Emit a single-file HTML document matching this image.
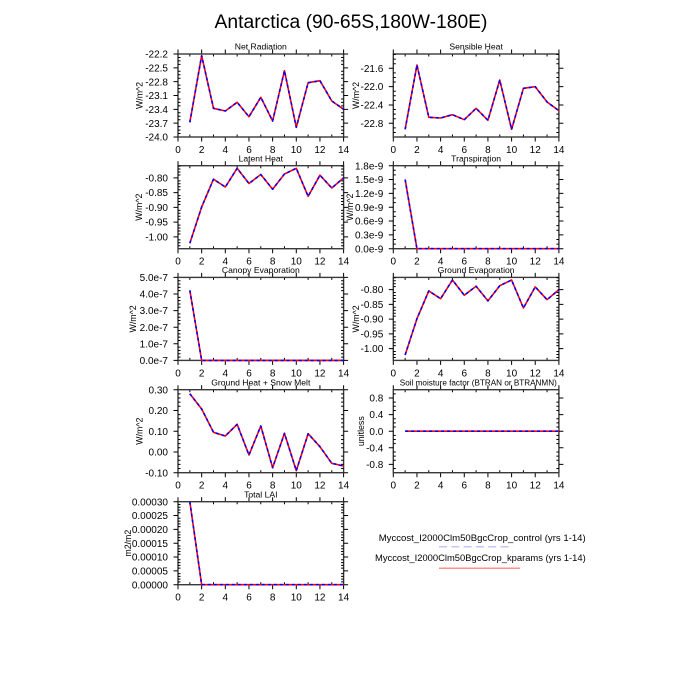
<!DOCTYPE html>
<html><head><meta charset="utf-8"><style>
html,body{margin:0;padding:0;background:#fff;}
svg{display:block;}
text{font-family:"Liberation Sans",Arial,sans-serif;fill:#000;}
</style></head><body>
<svg width="700" height="700" viewBox="0 0 700 700" xmlns="http://www.w3.org/2000/svg" xmlns:xlink="http://www.w3.org/1999/xlink">
<rect width="700" height="700" fill="#fff"/>
<defs>
<path id="xb" stroke="#000" stroke-width="1" fill="none" d="M0 83v4.5M23.66 83v4.5M47.31 83v4.5M70.97 83v4.5M94.63 83v4.5M118.29 83v4.5M141.94 83v4.5M165.6 83v4.5M11.83 83v-2.5M35.49 83v-2.5M59.14 83v-2.5M82.8 83v-2.5M106.46 83v-2.5M130.11 83v-2.5M153.77 83v-2.5"/>
<g id="frame"><use href="#xb" xlink:href="#xb"/><use href="#xb" xlink:href="#xb" transform="translate(0,83) scale(1,-1)"/><rect x="0" y="0" width="165.6" height="83" fill="none" stroke="#3a3a3a" stroke-width="1.4"/></g>
<path id="y1" stroke="#000" stroke-width="1" fill="none" d="M0 0h-4.5M0 13.83h-4.5M0 27.67h-4.5M0 41.5h-4.5M0 55.33h-4.5M0 69.17h-4.5M0 83h-4.5M0 3.46h2.5M0 6.92h2.5M0 10.37h2.5M0 17.29h2.5M0 20.75h2.5M0 24.21h2.5M0 31.13h2.5M0 34.58h2.5M0 38.04h2.5M0 44.96h2.5M0 48.42h2.5M0 51.88h2.5M0 58.79h2.5M0 62.25h2.5M0 65.71h2.5M0 72.63h2.5M0 76.08h2.5M0 79.54h2.5"/>
<path id="y2" stroke="#000" stroke-width="1" fill="none" d="M0 14.3h-4.5M0 32.63h-4.5M0 50.96h-4.5M0 69.3h-4.5M0 0.56h2.5M0 5.14h2.5M0 9.72h2.5M0 18.88h2.5M0 23.46h2.5M0 28.05h2.5M0 37.21h2.5M0 41.8h2.5M0 46.38h2.5M0 55.54h2.5M0 60.13h2.5M0 64.71h2.5M0 73.88h2.5M0 78.46h2.5"/>
<path id="y3" stroke="#000" stroke-width="1" fill="none" d="M0 12.2h-4.5M0 26.95h-4.5M0 41.7h-4.5M0 56.45h-4.5M0 71.2h-4.5M0 0.4h2.5M0 3.35h2.5M0 6.3h2.5M0 9.25h2.5M0 15.15h2.5M0 18.1h2.5M0 21.05h2.5M0 24h2.5M0 29.9h2.5M0 32.85h2.5M0 35.8h2.5M0 38.75h2.5M0 44.65h2.5M0 47.6h2.5M0 50.55h2.5M0 53.5h2.5M0 59.4h2.5M0 62.35h2.5M0 65.3h2.5M0 68.25h2.5M0 74.15h2.5M0 77.1h2.5M0 80.05h2.5"/>
<path id="y4" stroke="#000" stroke-width="1" fill="none" d="M0 0h-4.5M0 13.83h-4.5M0 27.67h-4.5M0 41.5h-4.5M0 55.33h-4.5M0 69.17h-4.5M0 83h-4.5M0 4.61h2.5M0 9.22h2.5M0 18.44h2.5M0 23.06h2.5M0 32.28h2.5M0 36.89h2.5M0 46.11h2.5M0 50.72h2.5M0 59.94h2.5M0 64.56h2.5M0 73.78h2.5M0 78.39h2.5"/>
<path id="y5" stroke="#000" stroke-width="1" fill="none" d="M0 0h-4.5M0 16.6h-4.5M0 33.2h-4.5M0 49.8h-4.5M0 66.4h-4.5M0 83h-4.5M0 3.32h2.5M0 6.64h2.5M0 9.96h2.5M0 13.28h2.5M0 19.92h2.5M0 23.24h2.5M0 26.56h2.5M0 29.88h2.5M0 36.52h2.5M0 39.84h2.5M0 43.16h2.5M0 46.48h2.5M0 53.12h2.5M0 56.44h2.5M0 59.76h2.5M0 63.08h2.5M0 69.72h2.5M0 73.04h2.5M0 76.36h2.5M0 79.68h2.5"/>
<path id="y7" stroke="#000" stroke-width="1" fill="none" d="M0 0h-4.5M0 20.75h-4.5M0 41.5h-4.5M0 62.25h-4.5M0 83h-4.5M0 4.15h2.5M0 8.3h2.5M0 12.45h2.5M0 16.6h2.5M0 24.9h2.5M0 29.05h2.5M0 33.2h2.5M0 37.35h2.5M0 45.65h2.5M0 49.8h2.5M0 53.95h2.5M0 58.1h2.5M0 66.4h2.5M0 70.55h2.5M0 74.7h2.5M0 78.85h2.5"/>
<path id="y8" stroke="#000" stroke-width="1" fill="none" d="M0 8.3h-4.5M0 24.9h-4.5M0 41.5h-4.5M0 58.1h-4.5M0 74.7h-4.5M0 4.15h2.5M0 12.45h2.5M0 16.6h2.5M0 20.75h2.5M0 29.05h2.5M0 33.2h2.5M0 37.35h2.5M0 45.65h2.5M0 49.8h2.5M0 53.95h2.5M0 62.25h2.5M0 66.4h2.5M0 70.55h2.5M0 78.85h2.5"/>
<path id="y9" stroke="#000" stroke-width="1" fill="none" d="M0 0h-4.5M0 13.83h-4.5M0 27.67h-4.5M0 41.5h-4.5M0 55.33h-4.5M0 69.17h-4.5M0 83h-4.5M0 2.77h2.5M0 5.53h2.5M0 8.3h2.5M0 11.07h2.5M0 16.6h2.5M0 19.37h2.5M0 22.13h2.5M0 24.9h2.5M0 30.43h2.5M0 33.2h2.5M0 35.97h2.5M0 38.73h2.5M0 44.27h2.5M0 47.03h2.5M0 49.8h2.5M0 52.57h2.5M0 58.1h2.5M0 60.87h2.5M0 63.63h2.5M0 66.4h2.5M0 71.93h2.5M0 74.7h2.5M0 77.47h2.5M0 80.23h2.5"/>
</defs>

<text x="351" y="28" font-size="19.3" text-anchor="middle">Antarctica (90-65S,180W-180E)</text>

<!-- P1 Net Radiation -->
<g transform="translate(178,54)">
<use href="#frame" xlink:href="#frame"/>
<use href="#y1" xlink:href="#y1"/><use href="#y1" xlink:href="#y1" transform="translate(165.6,0) scale(-1,1)"/>
<text x="82.8" y="-4.3" font-size="8.6" text-anchor="middle">Net Radiation</text>
<text font-size="10" text-anchor="end"><tspan x="-10" y="3.6">-22.2</tspan><tspan x="-10" y="17.43">-22.5</tspan><tspan x="-10" y="31.27">-22.8</tspan><tspan x="-10" y="45.1">-23.1</tspan><tspan x="-10" y="58.93">-23.4</tspan><tspan x="-10" y="72.77">-23.7</tspan><tspan x="-10" y="86.6">-24.0</tspan></text>
<text font-size="10" text-anchor="middle" y="99"><tspan x="0">0</tspan><tspan x="23.66">2</tspan><tspan x="47.31">4</tspan><tspan x="70.97">6</tspan><tspan x="94.63">8</tspan><tspan x="118.29">10</tspan><tspan x="141.94">12</tspan><tspan x="165.6">14</tspan></text>
<text transform="translate(-35.5,41.5) rotate(-90)" font-size="8.8" text-anchor="middle">W/m^2</text>
<polyline fill="none" stroke="#f00" stroke-width="1.6" stroke-linejoin="round" points="11.83,68.3 23.66,1.7 35.49,54.3 47.31,57 59.14,48.3 70.97,62.7 82.8,43.3 94.63,67 106.46,16.7 118.29,73.3 130.12,28.7 141.95,26.7 153.78,47 165.6,55.3"/>
<polyline fill="none" stroke="#00f" stroke-width="1.6" stroke-dasharray="3 3" stroke-linejoin="round" points="11.83,68.3 23.66,1.7 35.49,54.3 47.31,57 59.14,48.3 70.97,62.7 82.8,43.3 94.63,67 106.46,16.7 118.29,73.3 130.12,28.7 141.95,26.7 153.78,47 165.6,55.3"/>
</g>

<!-- P2 Sensible Heat -->
<g transform="translate(393.3,54)">
<use href="#frame" xlink:href="#frame"/>
<use href="#y2" xlink:href="#y2"/><use href="#y2" xlink:href="#y2" transform="translate(165.6,0) scale(-1,1)"/>
<text x="82.8" y="-4.3" font-size="8.6" text-anchor="middle">Sensible Heat</text>
<text font-size="10" text-anchor="end"><tspan x="-10" y="17.9">-21.6</tspan><tspan x="-10" y="36.23">-22.0</tspan><tspan x="-10" y="54.56">-22.4</tspan><tspan x="-10" y="72.9">-22.8</tspan></text>
<text font-size="10" text-anchor="middle" y="99"><tspan x="0">0</tspan><tspan x="23.66">2</tspan><tspan x="47.31">4</tspan><tspan x="70.97">6</tspan><tspan x="94.63">8</tspan><tspan x="118.29">10</tspan><tspan x="141.94">12</tspan><tspan x="165.6">14</tspan></text>
<text transform="translate(-34.1,41.5) rotate(-90)" font-size="8.8" text-anchor="middle">W/m^2</text>
<polyline fill="none" stroke="#f00" stroke-width="1.6" stroke-linejoin="round" points="11.83,75.3 23.66,11 35.49,63.3 47.31,64 59.14,60.7 70.97,65.7 82.8,54.3 94.63,66.3 106.46,26 118.29,75.3 130.12,34.3 141.95,32.7 153.78,48 165.6,56.7"/>
<polyline fill="none" stroke="#00f" stroke-width="1.6" stroke-dasharray="3 3" stroke-linejoin="round" points="11.83,75.3 23.66,11 35.49,63.3 47.31,64 59.14,60.7 70.97,65.7 82.8,54.3 94.63,66.3 106.46,26 118.29,75.3 130.12,34.3 141.95,32.7 153.78,48 165.6,56.7"/>
</g>

<!-- P3 Latent Heat -->
<g transform="translate(178,165.7)">
<use href="#frame" xlink:href="#frame"/>
<use href="#y3" xlink:href="#y3"/><use href="#y3" xlink:href="#y3" transform="translate(165.6,0) scale(-1,1)"/>
<text x="82.8" y="-4.3" font-size="8.6" text-anchor="middle">Latent Heat</text>
<text font-size="10" text-anchor="end"><tspan x="-10" y="15.8">-0.80</tspan><tspan x="-10" y="30.55">-0.85</tspan><tspan x="-10" y="45.3">-0.90</tspan><tspan x="-10" y="60.05">-0.95</tspan><tspan x="-10" y="74.8">-1.00</tspan></text>
<text font-size="10" text-anchor="middle" y="99"><tspan x="0">0</tspan><tspan x="23.66">2</tspan><tspan x="47.31">4</tspan><tspan x="70.97">6</tspan><tspan x="94.63">8</tspan><tspan x="118.29">10</tspan><tspan x="141.94">12</tspan><tspan x="165.6">14</tspan></text>
<text transform="translate(-35.8,41.5) rotate(-90)" font-size="8.8" text-anchor="middle">W/m^2</text>
<polyline fill="none" stroke="#f00" stroke-width="1.6" stroke-linejoin="round" points="11.83,77.6 23.66,41.3 35.49,13.5 47.31,21.3 59.14,2.6 70.97,17.8 82.8,8.8 94.63,23.5 106.46,8.3 118.29,2.6 130.12,30.6 141.95,9.5 153.78,22.3 165.6,12.2"/>
<polyline fill="none" stroke="#00f" stroke-width="1.6" stroke-dasharray="3 3" stroke-linejoin="round" points="11.83,77.6 23.66,41.3 35.49,13.5 47.31,21.3 59.14,2.6 70.97,17.8 82.8,8.8 94.63,23.5 106.46,8.3 118.29,2.6 130.12,30.6 141.95,9.5 153.78,22.3 165.6,12.2"/>
</g>

<!-- P4 Transpiration -->
<g transform="translate(393.3,165.7)">
<use href="#frame" xlink:href="#frame"/>
<use href="#y4" xlink:href="#y4"/><use href="#y4" xlink:href="#y4" transform="translate(165.6,0) scale(-1,1)"/>
<text x="82.8" y="-4.3" font-size="8.6" text-anchor="middle">Transpiration</text>
<text font-size="10" text-anchor="end"><tspan x="-10" y="3.6">1.8e-9</tspan><tspan x="-10" y="17.43">1.5e-9</tspan><tspan x="-10" y="31.27">1.2e-9</tspan><tspan x="-10" y="45.1">0.9e-9</tspan><tspan x="-10" y="58.93">0.6e-9</tspan><tspan x="-10" y="72.77">0.3e-9</tspan><tspan x="-10" y="86.6">0.0e-9</tspan></text>
<text font-size="10" text-anchor="middle" y="99"><tspan x="0">0</tspan><tspan x="23.66">2</tspan><tspan x="47.31">4</tspan><tspan x="70.97">6</tspan><tspan x="94.63">8</tspan><tspan x="118.29">10</tspan><tspan x="141.94">12</tspan><tspan x="165.6">14</tspan></text>
<text transform="translate(-40.1,41.5) rotate(-90)" font-size="8.8" text-anchor="middle">W/m^2</text>
<polyline fill="none" stroke="#f00" stroke-width="1.6" stroke-linejoin="round" points="11.83,13.83 23.66,83 165.6,83"/>
<polyline fill="none" stroke="#00f" stroke-width="1.6" stroke-dasharray="3 3" stroke-linejoin="round" points="11.83,13.83 23.66,83 165.6,83"/>
</g>

<!-- P5 Canopy Evaporation -->
<g transform="translate(178,277.4)">
<use href="#frame" xlink:href="#frame"/>
<use href="#y5" xlink:href="#y5"/><use href="#y5" xlink:href="#y5" transform="translate(165.6,0) scale(-1,1)"/>
<text x="82.8" y="-4.3" font-size="8.6" text-anchor="middle">Canopy Evaporation</text>
<text font-size="10" text-anchor="end"><tspan x="-10" y="3.6">5.0e-7</tspan><tspan x="-10" y="20.2">4.0e-7</tspan><tspan x="-10" y="36.8">3.0e-7</tspan><tspan x="-10" y="53.4">2.0e-7</tspan><tspan x="-10" y="70">1.0e-7</tspan><tspan x="-10" y="86.6">0.0e-7</tspan></text>
<text font-size="10" text-anchor="middle" y="99"><tspan x="0">0</tspan><tspan x="23.66">2</tspan><tspan x="47.31">4</tspan><tspan x="70.97">6</tspan><tspan x="94.63">8</tspan><tspan x="118.29">10</tspan><tspan x="141.94">12</tspan><tspan x="165.6">14</tspan></text>
<text transform="translate(-41.8,41.5) rotate(-90)" font-size="8.8" text-anchor="middle">W/m^2</text>
<polyline fill="none" stroke="#f00" stroke-width="1.6" stroke-linejoin="round" points="11.83,13 23.66,83 165.6,83"/>
<polyline fill="none" stroke="#00f" stroke-width="1.6" stroke-dasharray="3 3" stroke-linejoin="round" points="11.83,13 23.66,83 165.6,83"/>
</g>

<!-- P6 Ground Evaporation -->
<g transform="translate(393.3,277.4)">
<use href="#frame" xlink:href="#frame"/>
<use href="#y3" xlink:href="#y3"/><use href="#y3" xlink:href="#y3" transform="translate(165.6,0) scale(-1,1)"/>
<text x="82.8" y="-4.3" font-size="8.6" text-anchor="middle">Ground Evaporation</text>
<text font-size="10" text-anchor="end"><tspan x="-10" y="15.8">-0.80</tspan><tspan x="-10" y="30.55">-0.85</tspan><tspan x="-10" y="45.3">-0.90</tspan><tspan x="-10" y="60.05">-0.95</tspan><tspan x="-10" y="74.8">-1.00</tspan></text>
<text font-size="10" text-anchor="middle" y="99"><tspan x="0">0</tspan><tspan x="23.66">2</tspan><tspan x="47.31">4</tspan><tspan x="70.97">6</tspan><tspan x="94.63">8</tspan><tspan x="118.29">10</tspan><tspan x="141.94">12</tspan><tspan x="165.6">14</tspan></text>
<text transform="translate(-34.1,41.5) rotate(-90)" font-size="8.8" text-anchor="middle">W/m^2</text>
<polyline fill="none" stroke="#f00" stroke-width="1.6" stroke-linejoin="round" points="11.83,77.6 23.66,41.3 35.49,13.5 47.31,21.3 59.14,2.6 70.97,17.8 82.8,8.8 94.63,23.5 106.46,8.3 118.29,2.6 130.12,30.6 141.95,9.5 153.78,22.3 165.6,12.2"/>
<polyline fill="none" stroke="#00f" stroke-width="1.6" stroke-dasharray="3 3" stroke-linejoin="round" points="11.83,77.6 23.66,41.3 35.49,13.5 47.31,21.3 59.14,2.6 70.97,17.8 82.8,8.8 94.63,23.5 106.46,8.3 118.29,2.6 130.12,30.6 141.95,9.5 153.78,22.3 165.6,12.2"/>
</g>

<!-- P7 Ground Heat + Snow Melt -->
<g transform="translate(178,389.7)">
<use href="#frame" xlink:href="#frame"/>
<use href="#y7" xlink:href="#y7"/><use href="#y7" xlink:href="#y7" transform="translate(165.6,0) scale(-1,1)"/>
<text x="82.8" y="-4.3" font-size="8.6" text-anchor="middle">Ground Heat + Snow Melt</text>
<text font-size="10" text-anchor="end"><tspan x="-10" y="3.6">0.30</tspan><tspan x="-10" y="24.35">0.20</tspan><tspan x="-10" y="45.1">0.10</tspan><tspan x="-10" y="65.85">0.00</tspan><tspan x="-10" y="86.6">-0.10</tspan></text>
<text font-size="10" text-anchor="middle" y="99"><tspan x="0">0</tspan><tspan x="23.66">2</tspan><tspan x="47.31">4</tspan><tspan x="70.97">6</tspan><tspan x="94.63">8</tspan><tspan x="118.29">10</tspan><tspan x="141.94">12</tspan><tspan x="165.6">14</tspan></text>
<text transform="translate(-35.5,41.5) rotate(-90)" font-size="8.8" text-anchor="middle">W/m^2</text>
<polyline fill="none" stroke="#f00" stroke-width="1.6" stroke-linejoin="round" points="11.83,4 23.66,19.3 35.49,42.6 47.31,46.3 59.14,34.6 70.97,65.3 82.8,36.3 94.63,78 106.46,43.6 118.29,81 130.12,44 141.95,57 153.78,73.6 165.6,76.3"/>
<polyline fill="none" stroke="#00f" stroke-width="1.6" stroke-dasharray="3 3" stroke-linejoin="round" points="11.83,4 23.66,19.3 35.49,42.6 47.31,46.3 59.14,34.6 70.97,65.3 82.8,36.3 94.63,78 106.46,43.6 118.29,81 130.12,44 141.95,57 153.78,73.6 165.6,76.3"/>
</g>

<!-- P8 Soil moisture factor -->
<g transform="translate(393.3,389.7)">
<use href="#frame" xlink:href="#frame"/>
<use href="#y8" xlink:href="#y8"/><use href="#y8" xlink:href="#y8" transform="translate(165.6,0) scale(-1,1)"/>
<text x="85" y="-4.3" font-size="8.6" text-anchor="middle" textLength="157" lengthAdjust="spacingAndGlyphs">Soil moisture factor (BTRAN or BTRANMN)</text>
<text font-size="10" text-anchor="end"><tspan x="-10" y="11.9">0.8</tspan><tspan x="-10" y="28.5">0.4</tspan><tspan x="-10" y="45.1">0.0</tspan><tspan x="-10" y="61.7">-0.4</tspan><tspan x="-10" y="78.3">-0.8</tspan></text>
<text font-size="10" text-anchor="middle" y="99"><tspan x="0">0</tspan><tspan x="23.66">2</tspan><tspan x="47.31">4</tspan><tspan x="70.97">6</tspan><tspan x="94.63">8</tspan><tspan x="118.29">10</tspan><tspan x="141.94">12</tspan><tspan x="165.6">14</tspan></text>
<text transform="translate(-29.4,41.5) rotate(-90)" font-size="8.8" text-anchor="middle">unitless</text>
<polyline fill="none" stroke="#f00" stroke-width="1.6" points="11.83,41.5 165.6,41.5"/>
<polyline fill="none" stroke="#00f" stroke-width="1.6" stroke-dasharray="3 3" points="11.83,41.5 165.6,41.5"/>
</g>

<!-- P9 Total LAI -->
<g transform="translate(178,501.7)">
<use href="#frame" xlink:href="#frame"/>
<use href="#y9" xlink:href="#y9"/><use href="#y9" xlink:href="#y9" transform="translate(165.6,0) scale(-1,1)"/>
<text x="82.8" y="-4.3" font-size="8.6" text-anchor="middle">Total LAI</text>
<text font-size="10" text-anchor="end"><tspan x="-10" y="3.6">0.00030</tspan><tspan x="-10" y="17.43">0.00025</tspan><tspan x="-10" y="31.27">0.00020</tspan><tspan x="-10" y="45.1">0.00015</tspan><tspan x="-10" y="58.93">0.00010</tspan><tspan x="-10" y="72.77">0.00005</tspan><tspan x="-10" y="86.6">0.00000</tspan></text>
<text font-size="10" text-anchor="middle" y="99"><tspan x="0">0</tspan><tspan x="23.66">2</tspan><tspan x="47.31">4</tspan><tspan x="70.97">6</tspan><tspan x="94.63">8</tspan><tspan x="118.29">10</tspan><tspan x="141.94">12</tspan><tspan x="165.6">14</tspan></text>
<text transform="translate(-46.8,41.5) rotate(-90)" font-size="8.8" text-anchor="middle">m2/m2</text>
<polyline fill="none" stroke="#f00" stroke-width="1.6" stroke-linejoin="round" points="11.83,0 23.66,83 165.6,83"/>
<polyline fill="none" stroke="#00f" stroke-width="1.6" stroke-dasharray="3 3" stroke-linejoin="round" points="11.83,0 23.66,83 165.6,83"/>
</g>

<!-- Legend -->
<text x="585.7" y="540.8" font-size="9.6" text-anchor="end" textLength="207" lengthAdjust="spacingAndGlyphs">Myccost_I2000Clm50BgcCrop_control (yrs 1-14)</text>
<line x1="439" y1="546.7" x2="513" y2="546.7" stroke="#c4c4f6" stroke-width="1.5" stroke-dasharray="8 4.3"/>
<text x="585.7" y="561.2" font-size="9.6" text-anchor="end" textLength="210.7" lengthAdjust="spacingAndGlyphs">Myccost_I2000Clm50BgcCrop_kparams (yrs 1-14)</text>
<line x1="439" y1="568.3" x2="520" y2="568.3" stroke="#ff9090" stroke-width="1.5"/>
</svg>
</body></html>
